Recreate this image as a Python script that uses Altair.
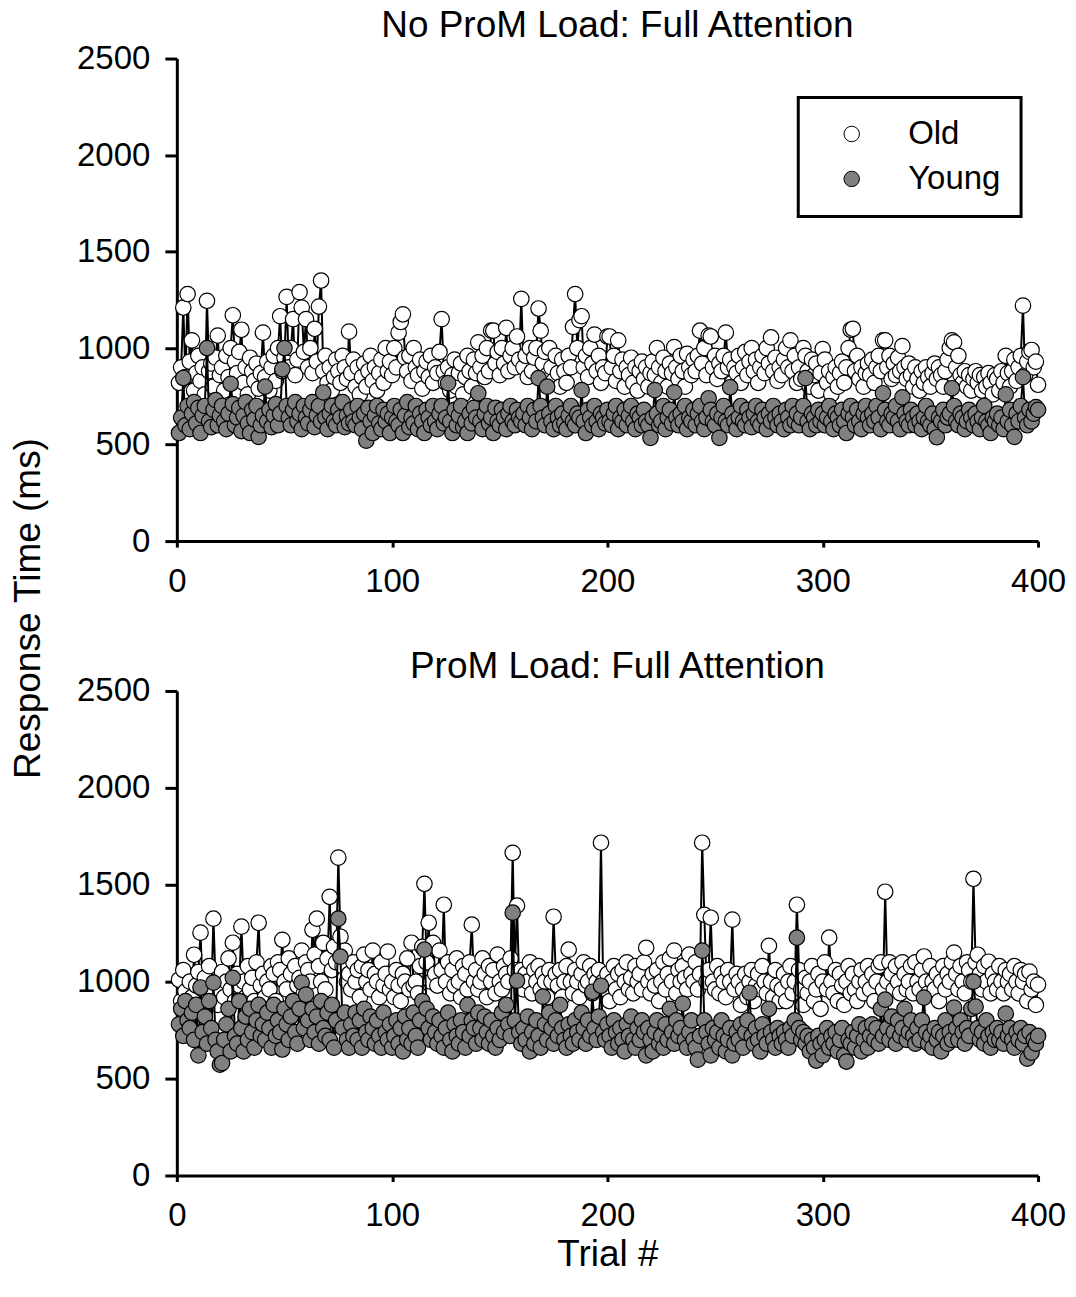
import altair as alt
import pandas as pd

FONT = "Liberation Sans"

trials = list(range(1, 401))

# Panel 1: No ProM Load: Full Attention
top_old = [
    820, 900, 1210, 850, 1280, 930, 1040, 780, 870, 960, 830, 900, 760, 1245, 880, 920, 800, 950, 1065, 860,
    900, 780, 960, 850, 1000, 1170, 930, 870, 980, 1095, 820, 900, 760, 950, 880, 830, 920, 790, 870, 1080,
    850, 930, 780, 900, 960, 830, 1000, 1165, 880, 950, 1265, 900, 1000, 1150, 860, 940, 1290, 1210, 980, 1150,
    900, 1000, 870, 1100, 930, 1215, 1350, 880, 960, 820, 900, 780, 850, 940, 880, 820, 960, 900, 840, 1085,
    870, 940, 800, 900, 760, 850, 920, 800, 880, 960, 830, 900, 780, 870, 940, 820, 1000, 880, 930, 860,
    1000, 900, 1080, 1135, 1175, 950, 880, 960, 830, 1000, 900, 860, 940, 790, 880, 930, 850, 960, 820, 900,
    870, 980, 1150, 880, 820, 900, 780, 860, 940, 800, 870, 920, 760, 850, 960, 880, 800, 940, 870, 1030,
    900, 960, 850, 1000, 880, 1090, 1090, 920, 980, 860, 1000, 920, 1105, 880, 960, 1000, 900, 1060, 940, 1255,
    900, 960, 850, 1000, 880, 950, 1000, 1205, 1090, 920, 980, 860, 1000, 900, 830, 960, 870, 800, 940, 880,
    820, 960, 900, 1110, 1280, 1000, 1145, 1165, 900, 960, 850, 1000, 920, 1070, 880, 960, 820, 900, 870, 1060,
    1060, 900, 960, 830, 1040, 880, 940, 800, 900, 860, 950, 820, 900, 780, 880, 930, 840, 900, 800, 870,
    930, 860, 1000, 900, 820, 950, 880, 800, 920, 870, 1005, 900, 840, 960, 880, 800, 970, 900, 860, 940,
    880, 960, 1090, 920, 1000, 860, 1065, 1060, 900, 960, 840, 920, 880, 960, 1080, 900, 940, 820, 900, 870,
    960, 820, 900, 980, 860, 930, 1000, 880, 940, 820, 900, 960, 870, 1000, 920, 1055, 880, 950, 830, 900,
    860, 940, 1000, 900, 1040, 880, 960, 820, 900, 840, 1000, 960, 880, 800, 940, 860, 920, 780, 870, 995,
    940, 820, 880, 760, 850, 900, 800, 870, 930, 820, 900, 1000, 1095, 1100, 880, 960, 840, 900, 800, 870,
    920, 860, 940, 820, 900, 960, 880, 1040, 1040, 900, 960, 840, 920, 860, 950, 880, 1010, 900, 840, 920,
    860, 800, 900, 840, 780, 880, 820, 900, 850, 800, 870, 920, 840, 900, 860, 800, 880, 940, 1000, 1040,
    1030, 900, 960, 860, 820, 880, 800, 860, 780, 840, 880, 820, 860, 780, 850, 800, 870, 820, 760, 860,
    840, 780, 880, 820, 960, 870, 800, 880, 940, 830, 900, 960, 1220, 860, 930, 980, 990, 900, 930, 810,
]
top_young = [
    560, 640, 845, 600, 700, 580, 660, 720, 610, 690, 560, 650, 700, 1000, 620, 590, 680, 730, 600, 650,
    700, 620, 580, 660, 815, 710, 600, 640, 690, 570, 650, 720, 610, 560, 680, 630, 700, 540, 600, 650,
    800, 620, 680, 590, 650, 710, 600, 660, 890, 1000, 700, 640, 600, 680, 720, 620, 660, 580, 700, 640,
    610, 680, 720, 590, 650, 700, 620, 770, 640, 580, 660, 700, 620, 600, 680, 640, 720, 590, 650, 610,
    680, 620, 600, 700, 640, 580, 660, 520, 690, 620, 560, 650, 700, 610, 580, 680, 620, 660, 560, 640,
    700, 620, 600, 680, 560, 650, 720, 590, 640, 610, 700, 580, 660, 620, 560, 680, 640, 600, 700, 620,
    580, 660, 700, 610, 640, 818, 620, 560, 680, 600, 650, 700, 590, 620, 560, 660, 610, 690, 640, 766,
    620, 580, 660, 700, 610, 640, 560, 690, 620, 600, 680, 640, 580, 660, 700, 620, 600, 680, 640, 620,
    660, 600, 700, 640, 580, 680, 620, 844, 700, 640, 600, 800, 660, 620, 580, 700, 640, 600, 660, 610,
    580, 650, 700, 620, 600, 660, 640, 782, 620, 560, 680, 640, 600, 700, 620, 580, 660, 640, 610, 680,
    620, 600, 660, 700, 580, 640, 620, 680, 600, 650, 700, 620, 580, 660, 640, 600, 680, 620, 600, 535,
    640, 782, 660, 600, 620, 700, 580, 640, 680, 610, 771, 640, 600, 660, 620, 700, 580, 640, 620, 680,
    600, 660, 700, 620, 580, 640, 740, 680, 620, 600, 660, 535, 640, 700, 620, 600, 797, 660, 620, 580,
    640, 700, 620, 600, 680, 640, 590, 660, 700, 620, 600, 680, 640, 580, 660, 620, 700, 640, 600, 660,
    620, 580, 680, 640, 600, 700, 620, 660, 600, 640, 700, 844, 620, 580, 660, 640, 600, 680, 620, 660,
    600, 640, 700, 620, 580, 660, 640, 600, 680, 620, 560, 660, 700, 640, 600, 680, 620, 580, 660, 700,
    640, 600, 660, 620, 700, 640, 580, 766, 680, 620, 600, 660, 640, 700, 620, 580, 745, 660, 620, 600,
    680, 640, 600, 660, 620, 580, 640, 700, 620, 600, 660, 580, 538, 640, 620, 680, 600, 640, 660, 792,
    700, 620, 600, 660, 640, 580, 620, 680, 640, 600, 660, 620, 580, 640, 700, 620, 600, 560, 640, 620,
    660, 600, 640, 580, 760, 620, 680, 600, 540, 660, 620, 700, 849, 640, 600, 680, 620, 660, 694, 680,
]

# Panel 2: ProM Load: Full Attention
bot_old = [
    1010, 900, 1060, 950, 880, 1000, 920, 1139, 980, 1050, 1253, 960, 1020, 900, 1080, 940, 1325, 1000, 880, 960,
    1050, 920, 1000, 1120, 960, 1201, 900, 1040, 980, 1284, 1000, 920, 1080, 960, 1020, 900, 1100, 1304, 980, 1040,
    920, 1000, 960, 1080, 1040, 900, 1100, 1060, 1216, 1000, 960, 1120, 1040, 900, 1080, 980, 1020, 1160, 940, 1100,
    1060, 1000, 1268, 1140, 1325, 1080, 1000, 1200, 960, 1120, 1438, 1060, 1180, 1100, 1640, 1232, 1080, 1160, 1000, 1040,
    960, 1100, 1000, 1060, 920, 1080, 1140, 1000, 1060, 960, 1160, 1040, 1000, 920, 1100, 980, 1040, 1155, 960, 1000,
    920, 1060, 980, 900, 1040, 1000, 1120, 960, 1201, 980, 1000, 940, 1080, 1180, 1505, 1100, 1304, 1000, 1200, 1040,
    980, 1160, 1060, 1397, 1000, 1100, 940, 1060, 980, 1120, 1000, 920, 1080, 1040, 960, 1100, 1294, 1000, 1060, 960,
    1000, 1120, 1040, 920, 1080, 1000, 1060, 940, 1140, 1000, 960, 1080, 1040, 1000, 1120, 1665, 1060, 1392, 1000, 1060,
    960, 1040, 1000, 1100, 940, 1060, 1000, 1080, 960, 1040, 1000, 920, 1060, 1000, 1335, 1040, 980, 1060, 920, 1000,
    1080, 1165, 1000, 940, 1060, 1000, 920, 1040, 1100, 980, 1000, 1080, 940, 1040, 1000, 1060, 1717, 1000, 960, 1040,
    900, 1000, 1080, 960, 1040, 920, 1060, 1000, 1100, 960, 1020, 940, 1080, 1000, 1040, 960, 1100, 1175, 1000, 940,
    1040, 980, 1060, 900, 1000, 1100, 960, 1040, 1120, 1000, 1160, 940, 1060, 1000, 1080, 1020, 960, 1140, 1040, 1000,
    1100, 960, 1040, 1717, 1345, 1000, 1060, 1330, 1000, 960, 1080, 940, 1040, 1000, 920, 1060, 1000, 1320, 960, 1040,
    1000, 880, 960, 1040, 920, 1000, 1060, 900, 980, 1040, 960, 1080, 1000, 940, 1185, 1000, 920, 1060, 980, 900,
    960, 1040, 900, 1000, 1080, 940, 1000, 1397, 1060, 960, 880, 1020, 940, 1000, 1080, 900, 960, 1040, 860, 1000,
    1100, 960, 1227, 1000, 940, 1060, 900, 1040, 980, 880, 1000, 1080, 940, 1040, 960, 900, 1000, 1060, 940, 1000,
    1080, 960, 1040, 900, 1000, 1080, 1100, 960, 1464, 1000, 1100, 1040, 960, 1080, 1000, 940, 1100, 1040, 960, 1000,
    1080, 940, 1100, 1000, 960, 1060, 1130, 1000, 940, 1080, 1000, 960, 1040, 900, 1000, 1080, 960, 1040, 1000, 1100,
    1150, 1040, 960, 1080, 1000, 940, 1100, 1060, 1000, 1531, 1100, 1139, 1040, 960, 1080, 1000, 1103, 940, 1040, 1000,
    960, 1080, 1000, 940, 1060, 1000, 1040, 960, 1080, 1000, 940, 1060, 1000, 1040, 900, 1052, 960, 1000, 880, 985,
]
bot_young = [
    780, 860, 720, 900, 800, 760, 840, 700, 880, 620, 970, 740, 820, 680, 900, 760, 995, 700, 640, 572,
    580, 700, 780, 860, 640, 1020, 720, 680, 900, 760, 640, 820, 700, 860, 740, 660, 800, 880, 720, 780,
    700, 840, 760, 660, 880, 720, 800, 740, 650, 860, 780, 700, 820, 900, 740, 680, 860, 995, 760, 933,
    800, 700, 860, 740, 820, 680, 900, 760, 720, 840, 700, 880, 660, 800, 1325, 1129, 760, 840, 700, 660,
    780, 720, 840, 700, 800, 660, 860, 740, 700, 820, 760, 680, 800, 720, 660, 840, 740, 700, 780, 660,
    720, 800, 680, 760, 640, 820, 700, 760, 680, 840, 720, 660, 800, 900, 1165, 860, 760, 700, 820, 740,
    680, 800, 720, 660, 760, 840, 700, 640, 780, 720, 680, 800, 740, 660, 880, 720, 800, 760, 680, 840,
    760, 700, 820, 740, 680, 800, 720, 660, 760, 700, 840, 740, 880, 780, 720, 1356, 800, 1005, 740, 680,
    760, 700, 820, 640, 740, 680, 800, 720, 660, 923, 780, 700, 840, 760, 680, 800, 720, 880, 760, 700,
    660, 780, 720, 680, 800, 740, 700, 840, 760, 680, 800, 720, 948, 760, 700, 820, 979, 740, 700, 780,
    720, 660, 800, 740, 680, 760, 700, 640, 780, 720, 820, 700, 660, 760, 700, 800, 740, 620, 760, 700,
    640, 740, 800, 680, 720, 660, 780, 700, 860, 740, 680, 800, 720, 760, 887, 700, 660, 740, 800, 700,
    660, 598, 720, 1160, 800, 740, 680, 620, 760, 700, 740, 660, 800, 720, 640, 700, 760, 620, 680, 740,
    700, 780, 660, 740, 800, 943, 720, 680, 760, 700, 640, 780, 720, 680, 860, 740, 700, 660, 760, 720,
    680, 740, 700, 660, 760, 720, 800, 1227, 760, 700, 740, 680, 720, 640, 700, 660, 593, 720, 680, 620,
    700, 760, 660, 720, 680, 740, 640, 700, 760, 620, 588, 700, 680, 740, 660, 720, 780, 640, 700, 760,
    660, 720, 780, 700, 760, 680, 860, 720, 907, 760, 700, 820, 740, 680, 800, 720, 760, 860, 700, 740,
    800, 720, 680, 760, 700, 800, 918, 740, 680, 720, 660, 760, 700, 740, 640, 720, 800, 680, 740, 700,
    866, 760, 700, 800, 740, 680, 760, 720, 860, 1000, 871, 760, 700, 740, 680, 800, 720, 660, 740, 700,
    760, 700, 740, 680, 835, 720, 760, 700, 660, 740, 700, 760, 680, 720, 603, 740, 634, 700, 680, 720,
]

for s in (top_old, top_young, bot_old, bot_young):
    assert len(s) == 400, len(s)

groups = ["Old", "Young"]
fills = ["white", "#808080"]


def frame(values, group):
    return pd.DataFrame({"trial": trials, "rt": values, "group": group})


def panel(old_vals, young_vals, title, title_offset, legend, y_axis, x_axis, height):
    x = alt.X("trial:Q", scale=alt.Scale(domain=[0, 400], nice=False, zero=True), axis=x_axis)
    y = alt.Y("rt:Q", scale=alt.Scale(domain=[0, 2500], nice=False), axis=y_axis)
    fill = alt.Fill("group:N", scale=alt.Scale(domain=groups, range=fills), legend=legend)
    layers = []
    for vals, g in ((old_vals, "Old"), (young_vals, "Young")):
        d = frame(vals, g)
        layers.append(alt.Chart(d).mark_line(color="black", strokeWidth=2).encode(x=x, y=y))
        layers.append(
            alt.Chart(d)
            .mark_circle(size=240, stroke="black", strokeWidth=1.2, opacity=1)
            .encode(x=x, y=y, fill=fill)
        )
    return alt.layer(*layers).properties(
        width=862,
        height=height,
        title=alt.TitleParams(
            title, fontSize=37, font=FONT, fontWeight="normal", anchor="middle",
            offset=title_offset, color="black", dx=10
        ),
    )


xticks = [0, 100, 200, 300, 400]
yticks = [0, 500, 1000, 1500, 2000, 2500]

legend = alt.Legend(
    title=None,
    orient="none",
    legendX=622,
    legendY=39,
    strokeColor="black",
    padding=20,
    rowPadding=11,
    symbolType="circle",
    symbolSize=240,
    symbolStrokeColor="black",
    symbolStrokeWidth=1,
    symbolOffset=17,
    labelOffset=40,
    labelFontSize=33,
    labelFont=FONT,
    labelColor="black",
)

top = panel(
    top_old,
    top_young,
    "No ProM Load: Full Attention",
    -2,
    legend,
    alt.Axis(
        values=yticks,
        format="d",
        title="Response Time (ms)",
        titleX=-148,
        titleY=550,
        titleAngle=270,
        titleAlign="center",
        titleBaseline="middle",
    ),
    alt.Axis(values=xticks, format="d", title=None),
    483,
)
bottom = panel(
    bot_old,
    bot_young,
    "ProM Load: Full Attention",
    -11,
    None,
    alt.Axis(values=yticks, format="d", title=None),
    alt.Axis(values=xticks, format="d", title="Trial #", titlePadding=4),
    485,
)

chart = (
    alt.vconcat(top, bottom, spacing=150, bounds="flush")
    .resolve_scale(fill="independent")
    .properties(padding={"left": 10, "top": 6, "right": 10, "bottom": 10}, background="white")
    .configure_view(stroke=None)
    .configure_axis(
        grid=False,
        domainColor="black",
        domainWidth=3,
        tickColor="black",
        tickWidth=3,
        labelColor="black",
        labelFont=FONT,
        labelFontSize=33,
        labelFlush=False,
        titleFont=FONT,
        titleFontSize=37,
        titleFontWeight="normal",
        titleColor="black",
    )
    .configure_axisX(tickSize=6, labelPadding=18)
    .configure_axisY(tickSize=12, labelPadding=15)
    .configure_legend(strokeWidth=3)
)

chart.save("out.html", embed_options={"renderer": "svg", "actions": False})
